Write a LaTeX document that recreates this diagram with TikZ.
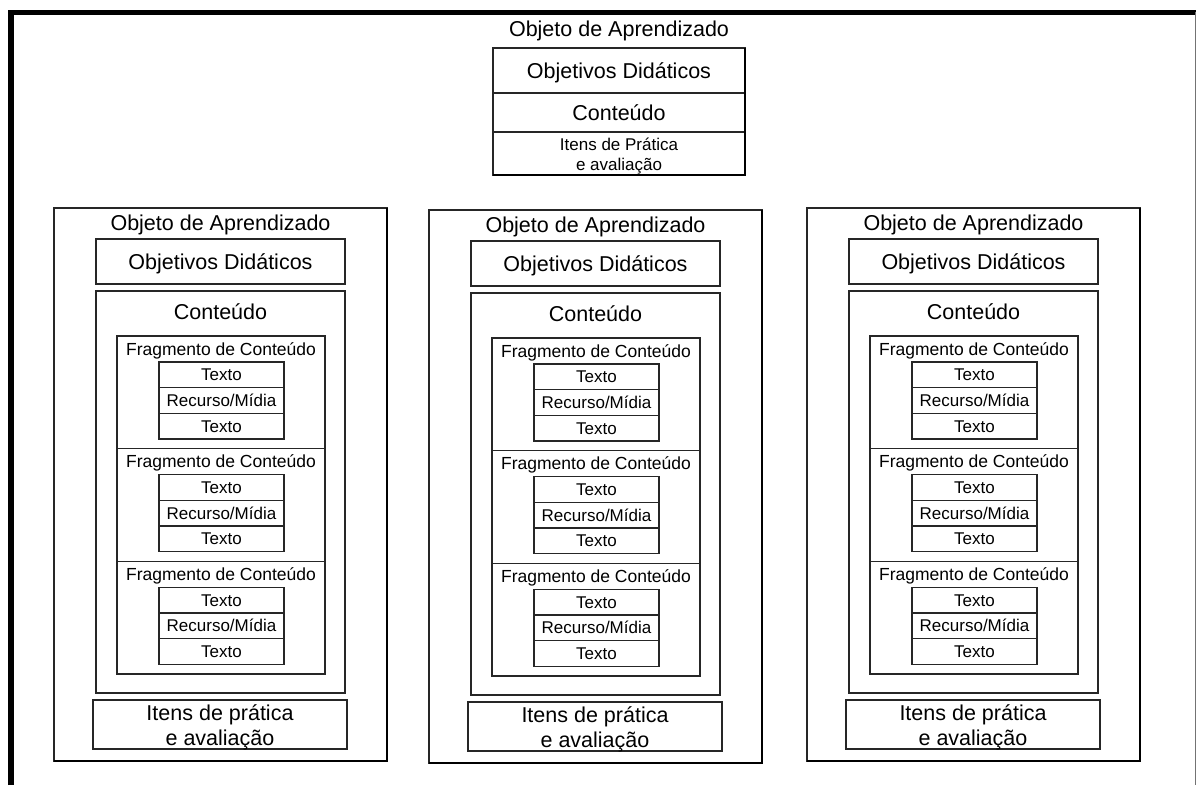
\documentclass[tikz,border=0pt]{standalone}
\usepackage{fontspec}
\setmainfont{Liberation Sans}
\begin{document}
\begin{tikzpicture}[x=1pt,y=-1pt,
  box/.style={draw=black!85, line width=1.5pt, rectangle, inner sep=0pt,
    outer sep=0pt, anchor=north west},
  big/.style={font=\fontsize{21.5}{24.5}\selectfont},
  mid/.style={font=\fontsize{17.5}{20}\selectfont},
  small/.style={font=\fontsize{17}{20}\selectfont},
  onel/.style={text height=15.4pt, text depth=0pt},
  onem/.style={text height=12.5pt, text depth=0pt},
  ones/.style={text height=12.2pt, text depth=0pt},
  twolines/.style={align=center, inner sep=0pt, yshift=-3pt},
  heavy/.style={black, line width=2.6pt},
  frameline/.style={black, line width=5.5pt},
  row/.style={box, small, ones, minimum width=125pt, minimum height=25.67pt}]

% page area
\useasboundingbox (0,0) rectangle (1196,785);
\fill[white] (0,0) rectangle (1196,785);

% outer frame
\draw[frameline] (11,785) -- (11,12.25) -- (1196,12.25);
\draw[black!55, line width=1pt] (1195,12) -- (1195,785);

% one learning object column: #1,#2 top left corner, #3 name prefix
\newcommand\learncol[3]{%
\begin{scope}[shift={(#1,#2)}]
  \node[box, minimum width=333pt, minimum height=553pt] (#3) at (0,0) {};
  \draw[heavy] (#3.north east) -- (#3.south east) -- (#3.south west);
  \node[big, onel] (#3-title) at (166.5,15) {Objeto de Aprendizado};
  \node[box, big, onel, minimum width=249pt, minimum height=45pt] (#3-obj) at (42,31) {Objetivos Didáticos};
  \node[box, minimum width=249pt, minimum height=402pt] (#3-cont) at (42,83) {};
  \node[big, onel] (#3-conttitle) at (166.5,104) {Conteúdo};
  \foreach \k/\fy in {1/128,2/240.67,3/353.33} {
    \node[box, minimum width=208pt, minimum height=112.67pt] (#3-frag\k) at (63,\fy) {};
    \node[mid, onem] (#3-fragtitle\k) at (167,\fy+13) {Fragmento de Conteúdo};
    \node[row] (#3-f\k-a) at (105,\fy+26) {Texto};
    \node[row] (#3-f\k-b) at (105,\fy+51.67) {Recurso/Mídia};
    \node[row] (#3-f\k-c) at (105,\fy+77.33) {Texto};
  }
  \node[box, minimum width=254pt, minimum height=49pt] (#3-items) at (39,492) {};
  \node[big, twolines] (#3-itemstext) at (#3-items.center) {Itens de prática\\e avaliação};
\end{scope}}

% the object at the top
\node[big, onel] (top-title) at (619,29) {Objeto de Aprendizado};
\node[box, big, onel, minimum width=252pt, minimum height=45pt] (top-obj) at (493,48) {Objetivos Didáticos};
\node[box, big, onel, minimum width=252pt, minimum height=39pt] (top-cont) at (493,93) {Conteúdo};
\node[box, minimum width=252pt, minimum height=43pt] (top-items) at (493,132) {};
\node[small, twolines] (top-itemstext) at (top-items.center) {Itens de Prática\\e avaliação};
\draw[heavy] (top-obj.north east) -- (top-items.south east) -- (top-items.south west);

% the three objects below
\learncol{54}{208}{left}
\learncol{429}{210}{middle}
\learncol{807}{208}{right}

\end{tikzpicture}
\end{document}
